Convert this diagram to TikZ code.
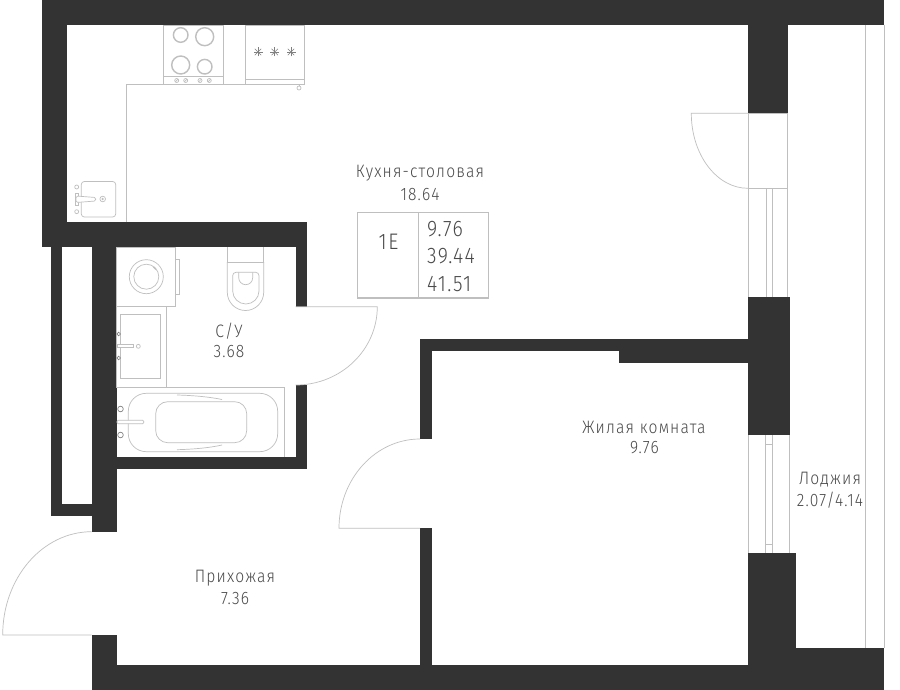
\documentclass[tikz,border=0pt]{standalone}
\usepackage{fontspec}
\setmainfont{Fira Sans Light}[LetterSpace=6.5,FakeStretch=0.87]
\definecolor{wallgray}{HTML}{333333}
\definecolor{linegray}{HTML}{BFBFBF}
\definecolor{textgray}{HTML}{4A4A4A}
\tikzset{
  wall/.style={fill=wallgray,draw=none},
  thin line/.style={draw=linegray,line width=0.7pt},
  thick line/.style={draw=linegray,line width=1.4pt},
  roomlabel/.style={text=textgray,font=\fontsize{18}{20}\selectfont,inner sep=0pt,anchor=center},
  tablelabel/.style={text=textgray,font=\fontsize{22.5}{26}\selectfont,inner sep=0pt}
}
\begin{document}
\begin{tikzpicture}[x=1pt,y=-1pt]
\useasboundingbox[fill=white] (0,0) rectangle (900,690);
\path[wall] (42,0) rectangle (884,25);
\path[wall] (42,25) rectangle (67,222);
\path[wall] (42,222) rectangle (307,247);
\path[wall] (295.7,247) rectangle (307,306.7);
\path[wall] (295.7,385) rectangle (307,469);
\path[wall] (116.7,457) rectangle (307,469);
\path[wall] (91.7,247) rectangle (116.7,531.7);
\path[wall] (50.7,247) rectangle (62.3,516);
\path[wall] (62.3,504.3) rectangle (91.7,516);
\path[wall] (91.7,635) rectangle (116.7,690);
\path[wall] (116.7,665) rectangle (884,690);
\path[wall] (748,25) rectangle (787.7,113.3);
\path[wall] (748,297.3) rectangle (790.3,435);
\path[wall] (748,553) rectangle (795.7,665);
\path[wall] (795.7,648) rectangle (884,665);
\path[wall] (420,338.7) rectangle (748,351);
\path[wall] (619.3,351) rectangle (748,363.3);
\path[wall] (420,351) rectangle (432,439);
\path[wall] (420,528.3) rectangle (432,665);

\draw[thin line] (748,113.3) -- (691.3,113.3) arc[start angle=180,end angle=90,x radius=56.7,y radius=75];
\draw[thin line] (748,113.3) -- (787.7,113.3) -- (787.7,297.3);
\draw[thin line] (748,113.3) -- (748,297.3);
\draw[thin line] (748,188.3) -- (787.7,188.3);
\draw[thin line] (766.5,188.3) -- (766.5,297.3);
\draw[thin line] (772.5,188.3) -- (772.5,297.3);
\draw[thin line] (748,435) -- (748,553);
\draw[thin line] (789.3,435) -- (789.3,553);
\draw[thin line] (765.5,435) -- (765.5,553);
\draw[thin line] (772.5,435) -- (772.5,553);
\draw[thin line] (765.5,444.3) -- (772.5,444.3);
\draw[thin line] (765.5,544) -- (772.5,544);
\draw[thin line] (865.5,25) -- (865.5,648);
\draw[thin line] (884,25) -- (884,648);
\draw[thin line] (295.7,306.7) -- (377.3,306.7) arc[start angle=0,end angle=90,x radius=81.6,y radius=78.3];
\draw[thin line] (420,528.3) -- (339,528.3) arc[start angle=180,end angle=270,x radius=81,y radius=89.3];
\draw[thin line] (91.7,635) -- (2.7,635) arc[start angle=180,end angle=270,x radius=89,y radius=103.3];

\draw[thin line] (126.7,222) -- (126.7,84.3) -- (304.5,84.3) -- (304.5,25);
\draw[thin line] (163.7,25) rectangle (223.3,84.3);
\draw[thin line] (163.7,76.3) -- (223.3,76.3);
\draw[thick line] (180.7,35) circle[radius=7.3];
\draw[thick line] (204.7,36.7) circle[radius=9];
\draw[thick line] (180.7,65) circle[radius=9];
\draw[thick line] (204.7,66.7) circle[radius=7.3];
\foreach \knobx in {176.7,185.7,200,209.3}{
  \draw[thin line] (\knobx,80.5) circle[radius=2];
  \draw[thin line] (\knobx-1.4,81.9) -- (\knobx+1.4,79.1);
}
\draw[thin line] (245.3,25) rectangle (304.5,84.3);
\draw[thin line] (245.3,79.3) -- (304.5,79.3);
\foreach \starx in {258,274.7,291}{
  \foreach \stara in {0,45,90,135}{
    \draw[thin line,draw=gray,line width=0.5pt] (\starx,52) ++(\stara:4.5) -- ++(\stara+180:9);
  }
}
\draw[thin line] (299,84.3) -- (299,86);
\draw[thin line] (299,88) circle[radius=2];

\draw[thin line,rounded corners=3pt] (81.3,181.5) rectangle (115.7,217);
\draw[thin line] (76.7,187) circle[radius=2];
\draw[thin line] (76.7,211.7) circle[radius=2];
\draw[thin line] (75,193) rectangle (78,205);
\draw[thin line,fill=white,rounded corners=1.5pt] (76,196) -- (95.7,197.5) -- (95.7,201) -- (76,202.5) -- cycle;
\draw[thin line] (102.7,199) circle[radius=2.8];
\draw[thin line] (102.7,199) circle[radius=0.8];

\draw[thin line] (116.7,247) rectangle (175.3,306.7);
\draw[thin line] (175.3,259) rectangle (179,294.5);
\draw[thin line] (146.3,276.7) circle[radius=17];
\draw[thin line] (146.3,276.7) circle[radius=12.5];
\draw[thick line] (153.5,266.8) -- (156,269.5);
\draw[thin line] (227.3,247) -- (227.3,262) -- (263.7,262) -- (263.7,247);
\draw[thin line] (227.3,262) -- (227.3,292.3) arc[start angle=180,end angle=0,radius=18.2] -- (263.7,262);
\draw[thin line] (236,272.3) -- (255.7,272.3) arc[start angle=-90,end angle=0,radius=3.3] -- (259,291) arc[start angle=0,end angle=180,x radius=13.15,y radius=13] -- (232.7,275.6) arc[start angle=180,end angle=270,radius=3.3];
\draw[thin line] (238.7,272.3) -- (238.7,277.7) arc[start angle=180,end angle=0,radius=7] -- (252.7,272.3);

\draw[thin line] (116.7,306.7) rectangle (166.3,387.7);
\draw[thin line] (120.7,314.3) rectangle (160.3,378);
\draw[thin line,fill=white] (117,344.8) rectangle (133,347.8);
\draw[thin line] (138.3,346.3) circle[radius=2];
\foreach \valvey in {334,358}{
  \draw[thin line,draw=gray] (118.7,\valvey) circle[radius=1.8];
}

\draw[thin line] (116.7,387.7) -- (284.7,387.7) -- (284.7,457);
\draw[thin line,rounded corners=18pt] (128.3,393.3) rectangle (277.7,451.7);
\draw[thin line,rounded corners=12pt] (155.7,401.7) rectangle (246.7,442.7);
\draw[thin line] (177,395) .. controls (195,395.5) and (210,397) .. (222,399.5);
\draw[thin line] (177,449.7) .. controls (195,449.2) and (210,447.7) .. (222,445);
\draw[thin line,fill=white,rounded corners=1pt] (117,420.3) rectangle (143.7,423.7);
\foreach \valvey in {409,435}{
  \draw[thin line,draw=gray] (120.5,\valvey) circle[radius=2.8];
}

\draw[thick line] (357.7,212.7) rectangle (488.7,298);
\draw[thick line] (418.7,212.7) -- (418.7,298);

\node[roomlabel] (kitchenname) at (420,173.5) {Кухня-столовая};
\node[roomlabel] (kitchenarea) at (420,194.5) {18.64};
\node[roomlabel] (bathname) at (229,331.5) {С/У};
\node[roomlabel] (batharea) at (229,352) {3.68};
\node[roomlabel] (roomname) at (644,427) {Жилая комната};
\node[roomlabel] (roomarea) at (644.5,447.5) {9.76};
\node[roomlabel] (loggianame) at (830,480) {Лоджия};
\node[roomlabel] (loggiaarea) at (830,500.5) {2.07/4.14};
\node[roomlabel] (hallname) at (235,578) {Прихожая};
\node[roomlabel] (hallarea) at (235,598.5) {7.36};
\node[tablelabel] (typelabel) at (388.5,241.5) {1Е};
\node[tablelabel,anchor=west] (livingtotal) at (427,229) {9.76};
\node[tablelabel,anchor=west] (flattotal) at (427,256) {39.44};
\node[tablelabel,anchor=west] (fulltotal) at (427,284) {41.51};
\end{tikzpicture}
\end{document}
